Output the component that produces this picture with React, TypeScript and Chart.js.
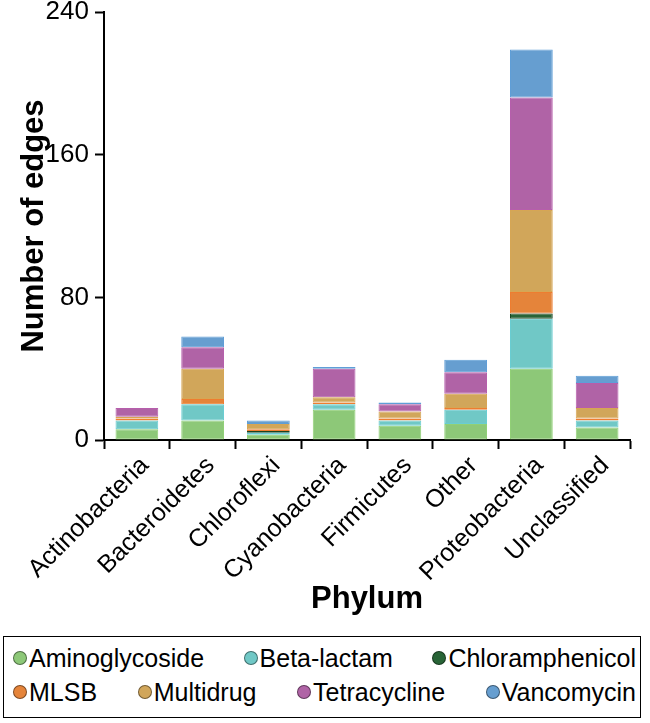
import React, { useEffect, useRef } from "react";
import { Chart, registerables } from "chart.js";

Chart.register(...registerables);

const categories = [
  "Actinobacteria",
  "Bacteroidetes",
  "Chloroflexi",
  "Cyanobacteria",
  "Firmicutes",
  "Other",
  "Proteobacteria",
  "Unclassified",
];

const aminoglycoside = [6, 11, 3, 17, 8, 9, 40, 7];
const betaLactam = [5, 9, 1, 3, 3, 8, 28, 4];
const chloramphenicol = [0, 0, 1, 0, 0, 0, 3, 0];
const mlsb = [1, 3, 1, 1, 1, 1, 12, 1];
const multidrug = [1, 17, 3, 3, 4, 8, 46, 6];
const tetracycline = [5, 12, 0, 16, 4, 12, 63, 14];
const vancomycin = [0, 6, 2, 1, 1, 7, 27, 4];

const yTicks = [0, 80, 160, 240];

const seriesNames = [
  "Aminoglycoside",
  "Beta-lactam",
  "Chloramphenicol",
  "MLSB",
  "Multidrug",
  "Tetracycline",
  "Vancomycin",
];
const seriesValues = [aminoglycoside, betaLactam, chloramphenicol, mlsb, multidrug, tetracycline, vancomycin];
const fillColors = [
  "rgb(141,200,120)",
  "rgb(112,200,198)",
  "rgb(40,100,55)",
  "rgb(229,132,58)",
  "rgb(209,166,90)",
  "rgb(176,99,166)",
  "rgb(102,158,208)",
];
const edgeColors = [
  "rgb(145,208,118)",
  "rgb(105,205,210)",
  "rgb(25,70,35)",
  "rgb(238,125,48)",
  "rgb(214,166,84)",
  "rgb(182,94,172)",
  "rgb(95,158,215)",
];
const legendRows = [
  [0, 1, 2],
  [3, 4, 5, 6],
];

const FONT = '"Liberation Sans", Arial, Helvetica, sans-serif';

export default function App() {
  const canvasRef = useRef<HTMLCanvasElement | null>(null);

  useEffect(() => {
    document.body.style.margin = "0";
    const canvas = canvasRef.current;
    if (!canvas) return;
    const chart = new Chart(canvas, {
      type: "bar",
      data: {
        labels: categories,
        datasets: seriesNames.map((name, i) => ({
          label: name,
          data: seriesValues[i],
          backgroundColor: fillColors[i],
          borderColor: edgeColors[i],
          borderWidth: 1,
          borderSkipped: false,
          barPercentage: 0.65,
          categoryPercentage: 1,
        })),
      },
      options: {
        responsive: false,
        animation: false,
        layout: { padding: { top: 12, right: 20, left: 0, bottom: 0 } },
        plugins: {
          legend: { display: false },
          tooltip: { enabled: false },
        },
        scales: {
          x: {
            stacked: true,
            offset: true,
            grid: {
              offset: true,
              drawOnChartArea: false,
              drawTicks: true,
              tickLength: 9,
              tickWidth: 2,
              tickColor: "#000",
            },
            border: { display: true, color: "#000", width: 2 },
            ticks: {
              maxRotation: 45,
              minRotation: 45,
              autoSkip: false,
              padding: 2,
              labelOffset: 8,
              color: "#000",
              font: { family: FONT, size: 25 },
            },
            title: {
              display: true,
              text: "Phylum",
              color: "#000",
              font: { family: FONT, size: 31, weight: "bold" },
              padding: { top: 0, bottom: 12 },
            },
            afterFit: (scale: any) => {
              scale.height = 190;
              scale.paddingLeft = 0;
              scale.paddingRight = 0;
            },
          },
          y: {
            stacked: true,
            min: 0,
            max: 240,
            afterBuildTicks: (scale: any) => {
              scale.ticks = yTicks.map((v) => ({ value: v }));
            },
            grid: {
              drawOnChartArea: false,
              drawTicks: true,
              tickLength: 9,
              tickWidth: 2,
              tickColor: "#000",
            },
            border: { display: true, color: "#000", width: 2 },
            ticks: {
              padding: 6,
              color: "#000",
              font: { family: FONT, size: 26 },
            },
            title: {
              display: true,
              text: "Number of edges",
              color: "#000",
              font: { family: FONT, size: 31, weight: "bold" },
              padding: { top: 16, bottom: 0 },
            },
            afterFit: (scale: any) => {
              scale.width = 104;
              scale.paddingTop = 0;
              scale.paddingBottom = 0;
            },
          },
        },
      },
    });
    return () => chart.destroy();
  }, []);

  return (
    <div style={{ position: "relative", width: 650, height: 723, background: "#fff" }}>
      <canvas ref={canvasRef} width={650} height={630} style={{ position: "absolute", left: 0, top: 0 }} />
      <div
        style={{
          position: "absolute",
          left: 3,
          top: 636,
          width: 638,
          height: 82,
          boxSizing: "border-box",
          border: "1.5px solid #000",
          padding: "4px 4px 0 9px",
          fontFamily: FONT,
          fontSize: 25,
          color: "#000",
        }}
      >
        {legendRows.map((row, ri) => (
          <div
            key={ri}
            style={{
              display: "flex",
              justifyContent: "space-between",
              alignItems: "center",
              height: 34,
              lineHeight: "34px",
            }}
          >
            {row.map((idx) => (
              <div key={idx} style={{ display: "flex", alignItems: "center", whiteSpace: "nowrap" }}>
                <span
                  style={{
                    display: "inline-block",
                    width: 12,
                    height: 12,
                    borderRadius: "50%",
                    background: fillColors[idx],
                    border: "1px solid rgba(0,0,0,0.45)",
                    marginRight: 2,
                  }}
                />
                <span>{seriesNames[idx]}</span>
              </div>
            ))}
          </div>
        ))}
      </div>
    </div>
  );
}
